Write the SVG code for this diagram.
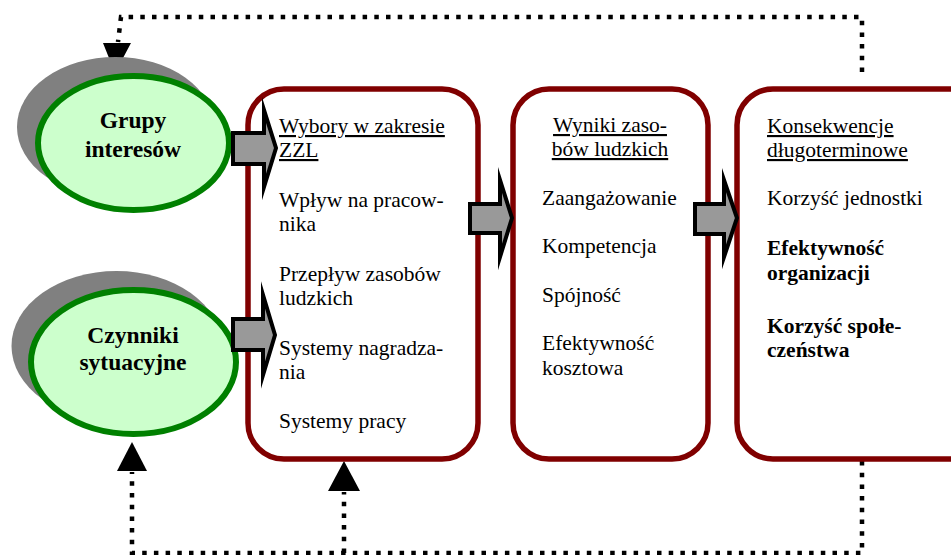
<svg xmlns="http://www.w3.org/2000/svg" width="951" height="555" viewBox="0 0 951 555">
  <style>
    .shadow { fill: #808080; }
    .oval { fill: #ccffcc; stroke: #008000; stroke-width: 6; }
    .box { fill: #ffffff; stroke: #800000; stroke-width: 5.5; }
    .flow { fill: #999999; stroke: #000000; stroke-width: 4; stroke-linejoin: miter; stroke-miterlimit: 20; }
    .dots { fill: none; stroke: #000000; stroke-width: 4.5; stroke-dasharray: 4.5 7.2; }
    .head { fill: #000000; }
    text { font-family: "Liberation Serif", "Times New Roman", serif; fill: #000000; }
    .t { font-size: 21.5px; }
    .u { text-decoration: underline; }
    .b { font-weight: bold; }
    .ob { font-size: 23.5px; font-weight: bold; text-anchor: middle; }
    .c { text-anchor: middle; }
  </style>

  <!-- feedback connectors -->
  <g id="connectors">
    <path class="dots" d="M862,72 V17 H121 L118,42"/>
    <polygon class="head" points="103,43 131,43 115,73"/>
    <path class="dots" d="M862,461 V553 H132 V472"/>
    <polygon class="head" points="117,471 147,471 132,442"/>
    <path class="dots" d="M344,553 V492"/>
    <polygon class="head" points="328,491 360,491 344,461"/>
  </g>

  <!-- stakeholder interests -->
  <g id="grupy">
    <ellipse class="shadow" cx="115.5" cy="127" rx="98.5" ry="70"/>
    <ellipse class="oval" cx="133.5" cy="143" rx="95.5" ry="67"/>
    <text class="ob" x="133" y="128">Grupy</text>
    <text class="ob" x="133" y="157">interesów</text>
  </g>

  <!-- situational factors -->
  <g id="czynniki">
    <ellipse class="shadow" cx="116.5" cy="346" rx="105" ry="75"/>
    <ellipse class="oval" cx="133.5" cy="362" rx="102.5" ry="72"/>
    <text class="ob" x="133" y="343">Czynniki</text>
    <text class="ob" x="133" y="370">sytuacyjne</text>
  </g>

  <!-- HRM policy choices -->
  <g id="wybory">
    <rect class="box" x="248" y="89" width="230" height="370" rx="36" ry="36"/>
    <text class="t u" x="279" y="133">Wybory w zakresie</text>
    <text class="t u" x="279" y="157">ZZL</text>
    <text class="t" x="279" y="207">Wpływ na pracow-</text>
    <text class="t" x="279" y="231">nika</text>
    <text class="t" x="279" y="281">Przepływ zasobów</text>
    <text class="t" x="279" y="305">ludzkich</text>
    <text class="t" x="279" y="355">Systemy nagradza-</text>
    <text class="t" x="279" y="379">nia</text>
    <text class="t" x="279" y="428">Systemy pracy</text>
  </g>

  <!-- HR outcomes -->
  <g id="wyniki">
    <rect class="box" x="513" y="89" width="195" height="370" rx="36" ry="36"/>
    <text class="t u c" x="610" y="132">Wyniki zaso-</text>
    <text class="t u c" x="610" y="156">bów ludzkich</text>
    <text class="t" x="542" y="205">Zaangażowanie</text>
    <text class="t" x="542" y="253">Kompetencja</text>
    <text class="t" x="542" y="302">Spójność</text>
    <text class="t" x="542" y="350">Efektywność</text>
    <text class="t" x="542" y="375">kosztowa</text>
  </g>

  <!-- long-term consequences -->
  <g id="konsekwencje">
    <rect class="box" x="737" y="89" width="250" height="370" rx="36" ry="36"/>
    <text class="t u" x="767" y="133">Konsekwencje</text>
    <text class="t u" x="767" y="157">długoterminowe</text>
    <text class="t" x="767" y="205">Korzyść jednostki</text>
    <text class="t b" x="767" y="255">Efektywność</text>
    <text class="t b" x="767" y="280">organizacji</text>
    <text class="t b" x="767" y="333">Korzyść społe-</text>
    <text class="t b" x="767" y="357">czeństwa</text>
  </g>

  <!-- block arrows between stages -->
  <g id="flows">
    <polygon class="flow" points="233,133 264,133 264,110 276,148 264,187 264,164 233,164"/>
    <polygon class="flow" points="233,319 263,319 263,295 275,335 263,375 263,350 233,350"/>
    <polygon class="flow" points="470,204 500,204 500,180 512,218 500,257 500,233 470,233"/>
    <polygon class="flow" points="695,204 724,204 724,180 737,218 724,257 724,234 695,234"/>
  </g>
</svg>
